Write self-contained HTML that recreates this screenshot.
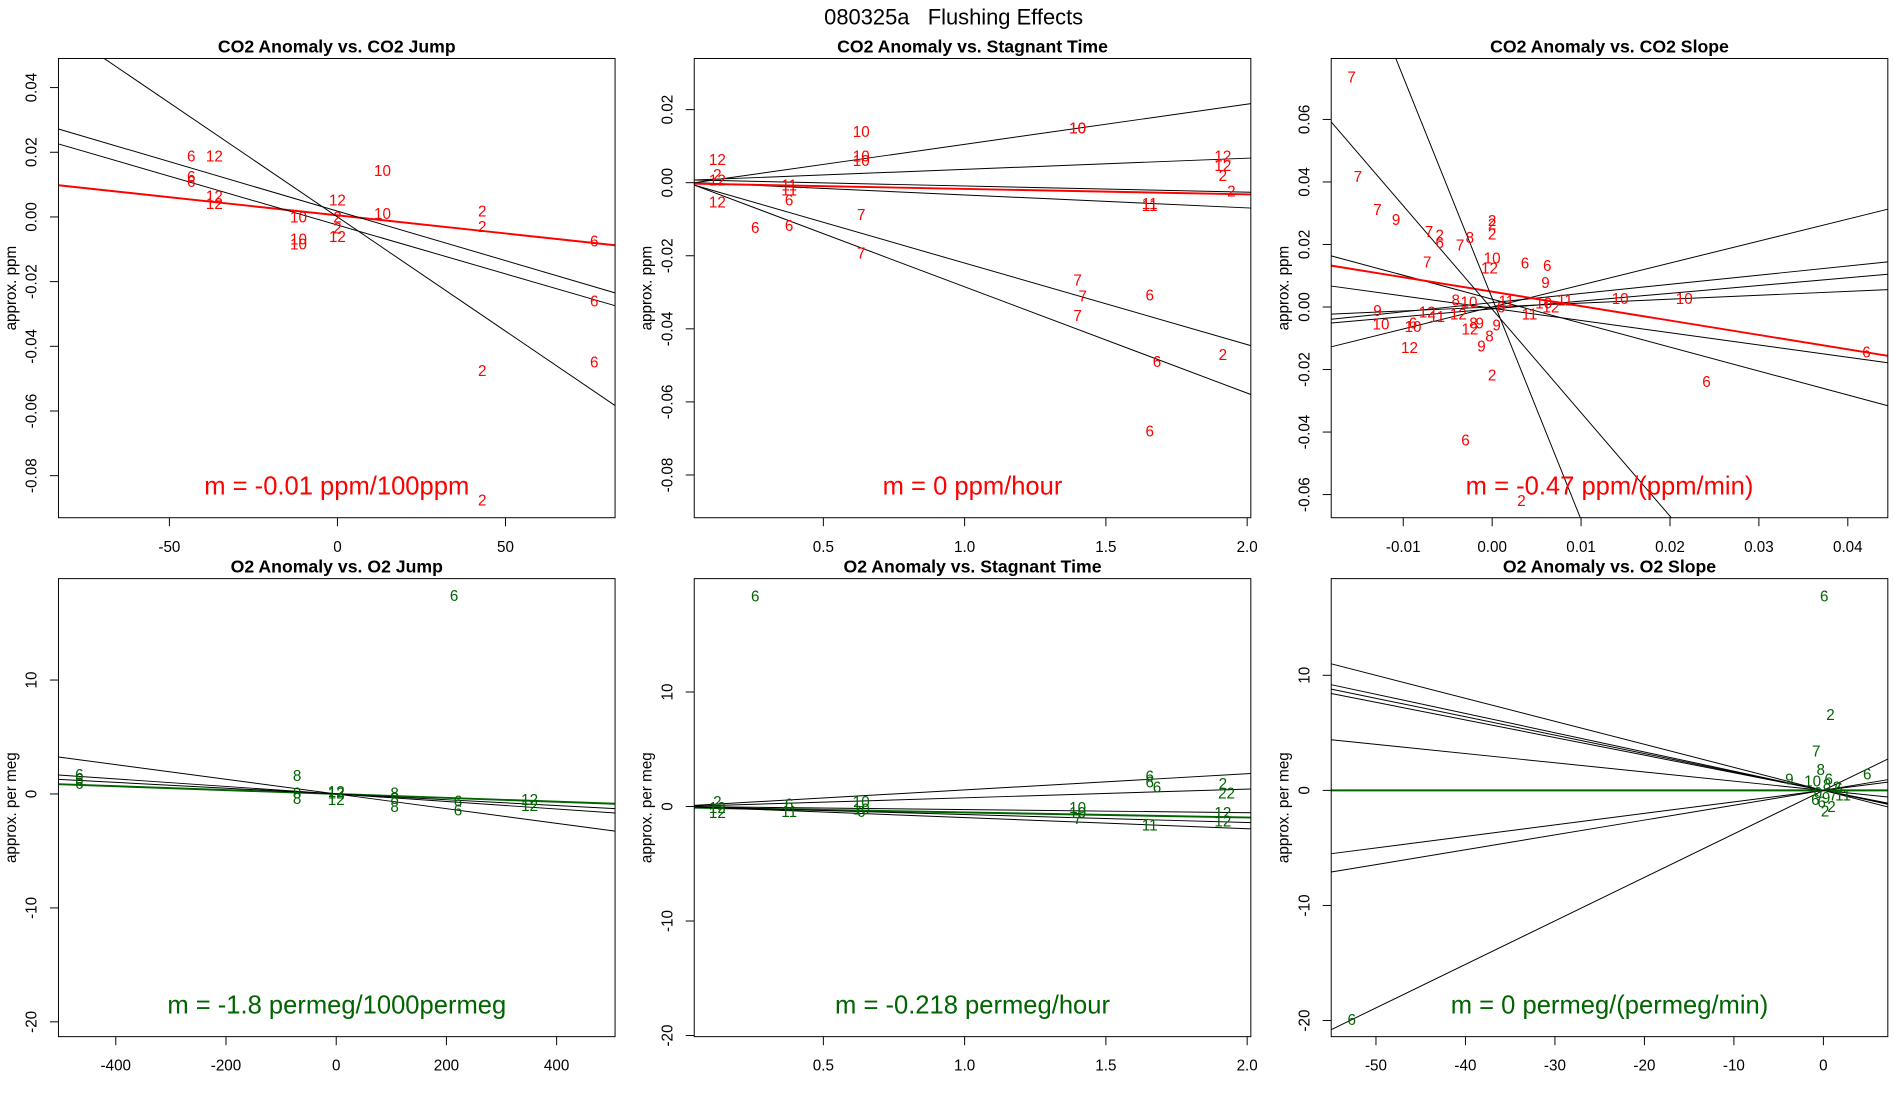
<!DOCTYPE html>
<html><head><meta charset="utf-8"><style>
html,body{margin:0;padding:0;background:#fff;width:1900px;height:1100px;overflow:hidden;}
svg{display:block;font-family:"Liberation Sans",sans-serif;}
</style></head><body>
<svg id="fig" width="1900" height="1100" viewBox="0 0 1560 903" preserveAspectRatio="none" xmlns="http://www.w3.org/2000/svg">
<text x="783" y="20" text-anchor="middle" font-size="18" xml:space="preserve">080325a   Flushing Effects</text>
</svg>
<script>
// ---------- Panel 1: CO2 Anomaly vs CO2 Jump ----------
const p1X=[-43.5,-36.6,-43.5,-43.5,-36.6,-36.6,-11.6,-11.6,-11.6,0,0,0,0,13.4,13.4,43.1,43.1,76.4,76.4,76.4,43.1,43.1];
const p1Y=[0.0189,0.0189,0.0125,0.011,0.0064,0.0042,0,-0.0068,-0.0083,0.0053,0,-0.0034,-0.006,0.0143,0.0011,0.0019,-0.003,-0.0075,-0.026,-0.0449,-0.0475,-0.0875];
const p1L=["6","12","6","6","12","12","10","10","10","12","2","2","12","10","10","2","2","6","6","6","2","2"];
const p1Slope=[-0.000112,-0.000706,-0.000306,-0.000302];
const p1Int=[0.0005,0,0.0018,-0.0025];
const p1Red=[true,false,false,false];
// ---------- Panel 2: CO2 Anomaly vs Stagnant Time ----------
const p2X=[0.125,0.125,0.125,0.125,0.259,0.634,0.634,0.634,0.379,0.379,0.379,0.379,0.634,0.634,1.40,1.40,1.40,1.418,1.40,1.655,1.681,1.655,1.655,1.655,1.914,1.914,1.914,1.944,1.914];
const p2Y=[0.0063,0.0023,0.0007,-0.0053,-0.0123,0.014,0.0073,0.006,-0.0007,-0.002,-0.0047,-0.0117,-0.0087,-0.0193,0.015,0.015,-0.0267,-0.031,-0.0363,-0.0307,-0.049,-0.068,-0.0057,-0.0063,0.0073,0.0047,0.002,-0.0023,-0.047];
const p2L=["12","2","12","12","6","10","10","10","11","11","6","6","7","7","10","10","7","7","7","6","6","6","11","11","12","12","2","2","2"];
const p2Slope=[0.011,0.00305,-0.0017,-0.00355,-0.0015,-0.0223,-0.0291];
const p2Int=[-0.0005,0.0006,0.0008,0.0002,-0.0002,0.0003,0.0006];
const p2Red=[false,false,false,false,true,false,false];
// ---------- Panel 3: CO2 Anomaly vs CO2 Slope ----------
const p3X=[-0.0158,-0.0151,-0.0129,-0.0108,-0.0071,-0.0059,-0.0059,-0.0036,-0.0025,0,0,0,-0.0073,0,-0.0003,0.0037,0.0062,0.006,-0.0129,-0.0125,-0.0073,-0.0062,-0.0038,-0.0041,-0.0026,-0.0089,-0.0089,-0.0093,-0.0025,-0.0021,-0.0014,-0.0012,-0.0003,0,-0.003,0.0033,0.0005,0.0016,0.001,0.0042,0.0058,0.0066,0.0082,0.0144,0.0216,0.0241,0.0421];
const p3Y=[0.0736,0.0417,0.0312,0.028,0.0242,0.023,0.0206,0.0199,0.0222,0.0277,0.0265,0.0234,0.0144,0.0156,0.0125,0.014,0.0132,0.0078,-0.0012,-0.0055,-0.0016,-0.0031,-0.0023,0.0023,0.0016,-0.0062,-0.0051,-0.0129,-0.007,-0.0051,-0.0051,-0.0125,-0.0093,-0.0218,-0.0425,-0.0619,-0.0058,0.0019,0,-0.0023,0.0012,0,0.0023,0.0027,0.0027,-0.0238,-0.0144];
const p3L=["7","7","7","9","7","2","6","7","8","2","2","2","7","10","12","6","6","9","9","10","12","11","12","8","10","10","6","12","12","8","9","9","8","2","6","2","9","11","6","11","10","12","11","10","10","6","6"];
const p3Slope=[0.703,0.293,0.249,0.125,-0.392,-0.766,-0.461,-7.08,-3.31];
const p3Int=[0,0.0014,-0.0006,0,-0.0004,0.0025,0.0049,0.0028,-0.0007];
const p3Red=[false,false,false,false,false,false,true,false,false];
// ---------- Panel 4: O2 Anomaly vs O2 Jump ----------
const p4X=[-466,-466,-466,-71,-71,-71,0,0,0,106,106,106,221,221,351,351,214];
const p4Y=[1.7,1.3,0.9,1.6,0.1,-0.4,0.2,0.1,-0.5,0.1,-0.4,-1.1,-0.6,-1.4,-0.5,-1.0,17.4];
const p4L=["6","6","6","8","8","8","12","12","12","8","8","8","6","6","12","12","6"];
const p4Slope=[-0.0017,-0.00644,-0.0033,-0.00254];
const p4Int=[0,0,0,0];
const p4Green=[true,false,false,false];
// ---------- Panel 5: O2 Anomaly vs Stagnant Time ----------
const p5X=[0.125,0.125,0.125,0.259,0.379,0.379,0.634,0.634,0.634,1.40,1.40,1.40,1.655,1.655,1.681,1.655,1.914,1.927,1.914,1.914];
const p5Y=[0.43,-0.1,-0.53,18.4,0.2,-0.43,0.43,-0.2,-0.43,-0.1,-0.53,-1.06,2.66,2.13,1.7,-1.6,2.0,1.17,-0.53,-1.28];
const p5L=["2","12","12","6","6","11","10","10","6","10","10","7","6","6","6","11","2","22","12","12"];
const p5Slope=[1.41,0.76,-0.27,-0.44,-0.7,-0.97];
const p5Int=[0.04,0,0,-0.08,0,0];
const p5Green=[false,false,false,true,false,false];
// ---------- Panel 6: O2 Anomaly vs O2 Slope ----------
const p6X=[0.1,0.8,-0.8,-3.8,4.9,-0.3,-1.2,0.6,1.5,-0.6,0.3,1.1,-0.2,0.9,2.2,-0.9,0.4,1.7,0.2,-52.7];
const p6Y=[16.9,6.6,3.4,1.0,1.4,1.8,0.8,1.0,0.3,-0.2,-0.6,-0.4,-1.0,-1.4,-0.4,-0.8,0.5,0.2,-1.8,-19.9];
const p6L=["6","2","7","9","6","8","10","6","2","0","9","7","6","2","11","6","8","6","2","6"];
const p6Slope=[-0.2,-0.167,-0.16,-0.153,-0.08,0,0.1,0.129,0.378];
const p6Int=[0,0,0,0,0,0,0,0,0];
const p6Green=[false,false,false,false,false,true,false,false,false];

const NS="http://www.w3.org/2000/svg";
const svg=document.getElementById('fig');
function mk(tag,attrs,parent){const e=document.createElementNS(NS,tag);for(const k in attrs)e.setAttribute(k,attrs[k]);(parent||svg).appendChild(e);return e;}

function panel(o){
  const g=mk('g',{});
  
  
  const sx=v=>o.x0+(v-o.xmin)/(o.xmax-o.xmin)*(o.x1-o.x0);
  const sy=v=>o.y1-(v-o.ymin)/(o.ymax-o.ymin)*(o.y1-o.y0);
  const clip='clip-'+o.name;
  const cp=mk('clipPath',{id:clip},g);mk('rect',{x:o.x0,y:o.y0,width:o.x1-o.x0,height:o.y1-o.y0},cp);
  const lg=mk('g',{'clip-path':'url(#'+clip+')'},g);
  o.slope.forEach((m,i)=>{
    const hl=o.hl[i];
    const ln=mk('line',{x1:sx(o.xmin),y1:sy(o.int[i]+m*o.xmin),x2:sx(o.xmax),y2:sy(o.int[i]+m*o.xmax),stroke:hl?o.color:'#000','stroke-width':hl?1.6:0.8},lg);
    
    
  });
  o.px.forEach((v,i)=>{
    const t=mk('text',{x:sx(v),y:sy(o.py[i])+4.5,'text-anchor':'middle','font-size':12.5,fill:o.color},lg);
    t.textContent=o.pl[i];
    
    
  });
  const bx=mk('rect',{x:o.x0,y:o.y0,width:o.x1-o.x0,height:o.y1-o.y0,fill:'none',stroke:'#000','stroke-width':0.8},g);
  
  
  const tt=mk('text',{x:(o.x0+o.x1)/2,y:o.y0-5,'text-anchor':'middle','font-size':14.5,'font-weight':'bold'},g);
  tt.textContent=o.title;
  
  
  o.xt.forEach((v,i)=>{
    const X=sx(v);
    mk('line',{x1:X,y1:o.y1,x2:X,y2:o.y1+7,stroke:'#000','stroke-width':0.8},g);
    const t=mk('text',{x:X,y:o.y1+28,'text-anchor':'middle','font-size':12.5},g);
    t.textContent=o.xtl[i];
    
    
  });
  o.yt.forEach((v,i)=>{
    const Y=sy(v);
    mk('line',{x1:o.x0,y1:Y,x2:o.x0-7,y2:Y,stroke:'#000','stroke-width':0.8},g);
    const t=mk('text',{x:o.x0-18,y:Y,'text-anchor':'middle','font-size':12.5,transform:`rotate(-90 ${o.x0-18} ${Y})`},g);
    t.textContent=o.ytl[i];
    
    
  });
  const yc=(o.y0+o.y1)/2;
  const ya=mk('text',{x:o.x0-35,y:yc,'text-anchor':'middle','font-size':12.5,transform:`rotate(-90 ${o.x0-35} ${yc})`},g);
  ya.textContent=o.ylab;
  
  
  const mt=mk('text',{x:(o.x0+o.x1)/2,y:o.y1-19,'text-anchor':'middle','font-size':21,fill:o.color},g);
  mt.textContent=o.mtext;
  
  
}
const RED='#ff0000',GREEN='#006400';
const cols=[[48,505],[570,1027],[1093,1550]];
const r1=[48,425],r2=[475,851];
panel({name:'panel-co2-jump',title:'CO2 Anomaly vs. CO2 Jump',x0:cols[0][0],x1:cols[0][1],y0:r1[0],y1:r1[1],xmin:-83,xmax:82.6,ymin:-0.093,ymax:0.049,
 px:p1X,py:p1Y,pl:p1L,slope:p1Slope,int:p1Int,hl:p1Red,color:RED,xt:[-50,0,50],xtl:['-50','0','50'],yt:[0.04,0.02,0,-0.02,-0.04,-0.06,-0.08],ytl:['0.04','0.02','0.00','-0.02','-0.04','-0.06','-0.08'],ylab:'approx. ppm',mtext:'m = -0.01 ppm/100ppm'});
panel({name:'panel-co2-stagnant',title:'CO2 Anomaly vs. Stagnant Time',x0:cols[1][0],x1:cols[1][1],y0:r1[0],y1:r1[1],xmin:0.043,xmax:2.013,ymin:-0.0917,ymax:0.034,
 px:p2X,py:p2Y,pl:p2L,slope:p2Slope,int:p2Int,hl:p2Red,color:RED,xt:[0.5,1,1.5,2],xtl:['0.5','1.0','1.5','2.0'],yt:[0.02,0,-0.02,-0.04,-0.06,-0.08],ytl:['0.02','0.00','-0.02','-0.04','-0.06','-0.08'],ylab:'approx. ppm',mtext:'m = 0 ppm/hour'});
panel({name:'panel-co2-slope',title:'CO2 Anomaly vs. CO2 Slope',x0:cols[2][0],x1:cols[2][1],y0:r1[0],y1:r1[1],xmin:-0.0181,xmax:0.0445,ymin:-0.0674,ymax:0.0795,
 px:p3X,py:p3Y,pl:p3L,slope:p3Slope,int:p3Int,hl:p3Red,color:RED,xt:[-0.01,0,0.01,0.02,0.03,0.04],xtl:['-0.01','0.00','0.01','0.02','0.03','0.04'],yt:[0.06,0.04,0.02,0,-0.02,-0.04,-0.06],ytl:['0.06','0.04','0.02','0.00','-0.02','-0.04','-0.06'],ylab:'approx. ppm',mtext:'m = -0.47 ppm/(ppm/min)'});
panel({name:'panel-o2-jump',title:'O2 Anomaly vs. O2 Jump',x0:cols[0][0],x1:cols[0][1],y0:r2[0],y1:r2[1],xmin:-504,xmax:506,ymin:-21.3,ymax:18.9,
 px:p4X,py:p4Y,pl:p4L,slope:p4Slope,int:p4Int,hl:p4Green,color:GREEN,xt:[-400,-200,0,200,400],xtl:['-400','-200','0','200','400'],yt:[10,0,-10,-20],ytl:['10','0','-10','-20'],ylab:'approx. per meg',mtext:'m = -1.8 permeg/1000permeg'});
panel({name:'panel-o2-stagnant',title:'O2 Anomaly vs. Stagnant Time',x0:cols[1][0],x1:cols[1][1],y0:r2[0],y1:r2[1],xmin:0.043,xmax:2.013,ymin:-20.1,ymax:19.9,
 px:p5X,py:p5Y,pl:p5L,slope:p5Slope,int:p5Int,hl:p5Green,color:GREEN,xt:[0.5,1,1.5,2],xtl:['0.5','1.0','1.5','2.0'],yt:[10,0,-10,-20],ytl:['10','0','-10','-20'],ylab:'approx. per meg',mtext:'m = -0.218 permeg/hour'});
panel({name:'panel-o2-slope',title:'O2 Anomaly vs. O2 Slope',x0:cols[2][0],x1:cols[2][1],y0:r2[0],y1:r2[1],xmin:-55,xmax:7.2,ymin:-21.4,ymax:18.4,
 px:p6X,py:p6Y,pl:p6L,slope:p6Slope,int:p6Int,hl:p6Green,color:GREEN,xt:[-50,-40,-30,-20,-10,0],xtl:['-50','-40','-30','-20','-10','0'],yt:[10,0,-10,-20],ytl:['10','0','-10','-20'],ylab:'approx. per meg',mtext:'m = 0 permeg/(permeg/min)'});
</script>
</body></html>
